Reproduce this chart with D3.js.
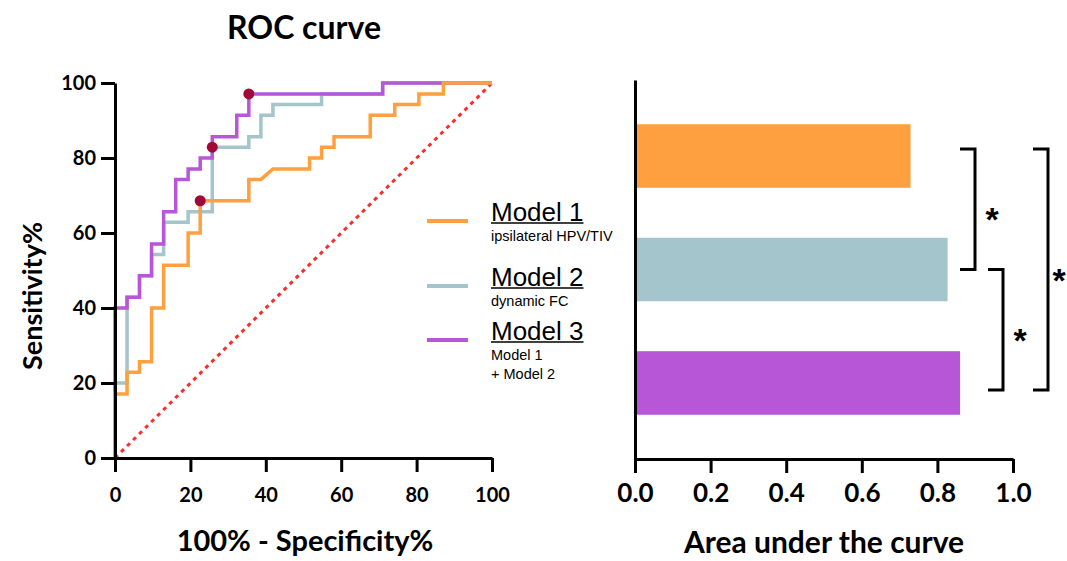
<!DOCTYPE html>
<html>
<head>
<meta charset="utf-8">
<script src="https://cdn.jsdelivr.net/npm/d3@7.9.0/dist/d3.min.js"></script>
<style>
  body { margin: 0; background: #fff; }
  svg { display: block; }
  .bold { font-family: Lato, "Open Sans", sans-serif; font-weight: 700; }
  .legend { font-family: "Liberation Sans", Arial, sans-serif; }
</style>
</head>
<body>
<svg width="1067" height="561"></svg>
<script>
// ROC points, [100% - specificity, sensitivity] in percent
const model1Roc = [[0,0],[0,17.1],[3.2,17.1],[3.2,22.9],[6.5,22.9],[6.5,25.7],[9.7,25.7],[9.7,40],[12.9,40],[12.9,51.4],
  [19.4,51.4],[19.4,60],[22.6,60],[22.6,68.6],[35.5,68.6],[35.5,74.3],[38.7,74.3],[41.9,77.1],[51.6,77.1],[51.6,80],
  [54.8,80],[54.8,82.9],[58.1,82.9],[58.1,85.7],[67.7,85.7],[67.7,91.4],[74.2,91.4],[74.2,94.3],[80.6,94.3],[80.6,97.1],
  [87.1,97.1],[87.1,100],[100,100]];
const model2Roc = [[0,0],[0,20],[3.2,20],[3.2,42.9],[6.5,42.9],[6.5,48.6],[9.7,48.6],[9.7,54.3],[12.9,54.3],[12.9,62.9],
  [19.4,62.9],[19.4,65.7],[25.8,65.7],[25.8,82.9],[35.5,82.9],[35.5,85.7],[38.7,85.7],[38.7,91.4],[41.9,91.4],[41.9,94.3],
  [54.8,94.3],[54.8,97.1],[71.0,97.1],[71.0,100],[100,100]];
const model3Roc = [[0,0],[0,40],[3.2,40],[3.2,42.9],[6.5,42.9],[6.5,48.6],[9.7,48.6],[9.7,57.1],[12.9,57.1],[12.9,65.7],
  [16.1,65.7],[16.1,74.3],[19.4,74.3],[19.4,77.1],[22.6,77.1],[22.6,80],[25.8,80],[25.8,85.7],[32.3,85.7],[32.3,91.4],
  [35.5,91.4],[35.5,97.1],[71.0,97.1],[71.0,100],[100,100]];
// optimal cut-off points
const cutPoints = [[22.6,68.6],[25.8,82.9],[35.5,97.1]];

const models = ['Model 1', 'Model 2', 'Model 3'];
const modelNotes = [['ipsilateral HPV/TIV'], ['dynamic FC'], ['Model 1', '+ Model 2']];
const colors = ['#ffa040', '#a3c5cb', '#b856d8'];
const aucValues = [0.729, 0.827, 0.860];
// significance brackets between bars (index pairs)
const comparisons = [[0, 1], [1, 2], [0, 2]];
const rocTicks = [0, 20, 40, 60, 80, 100];
const aucTicks = [0, 0.2, 0.4, 0.6, 0.8, 1.0];

let svg = d3.select('svg');

function styleAxis(g, size) {
  g.selectAll('path.domain').attr('stroke', '#000').attr('stroke-width', 3);
  g.selectAll('.tick line').attr('stroke', '#000').attr('stroke-width', 3);
  g.selectAll('.tick text').attr('class', 'bold').attr('fill', '#000').attr('font-size', size);
  g.attr('font-family', null);
}

// ---------- ROC curve ----------
let x = d3.scaleLinear().domain([0, 100]).range([115, 492]);
let y = d3.scaleLinear().domain([0, 100]).range([458, 83]);

svg.append('text').attr('class', 'bold')
  .attr('x', 304).attr('y', 39).attr('text-anchor', 'middle')
  .attr('font-size', 32).text('ROC curve');

// chance line
svg.append('line')
  .attr('x1', x(0)).attr('y1', y(0)).attr('x2', x(100)).attr('y2', y(100))
  .attr('stroke', '#ff2a2a').attr('stroke-width', 3).attr('stroke-dasharray', '4 4.5');

let line = d3.line().x(d => x(d[0])).y(d => y(d[1]));
let curveOrder = [1, 2, 0]; // teal below, orange on top
let curves = [model1Roc, model2Roc, model3Roc];
curveOrder.forEach(i => {
  svg.append('path')
    .attr('d', line(curves[i]))
    .attr('fill', 'none')
    .attr('stroke', colors[i])
    .attr('stroke-width', 3.5)
    .attr('stroke-linejoin', 'miter');
});

svg.selectAll('circle.cut')
  .data(cutPoints)
  .join('circle')
  .attr('class', 'cut')
  .attr('cx', d => x(d[0])).attr('cy', d => y(d[1]))
  .attr('r', 5.5).attr('fill', '#a00a3a');

let xAxis = svg.append('g').attr('transform', `translate(0,${y(0)})`)
  .call(d3.axisBottom(x).tickValues(rocTicks).tickSize(14).tickSizeOuter(0).tickPadding(16));
styleAxis(xAxis, 20);
let yAxis = svg.append('g').attr('transform', `translate(${x(0)},0)`)
  .call(d3.axisLeft(y).tickValues(rocTicks).tickSize(14).tickSizeOuter(0).tickPadding(5));
styleAxis(yAxis, 20);

svg.append('text').attr('class', 'bold')
  .attr('x', 305).attr('y', 551).attr('text-anchor', 'middle')
  .attr('font-size', 29).text('100% - Specificity%');
svg.append('text').attr('class', 'bold')
  .attr('transform', 'translate(42,296) rotate(-90)').attr('text-anchor', 'middle')
  .attr('font-size', 27).text('Sensitivity%');

// legend
let legendY = [221, 286, 340];
models.forEach((m, i) => {
  let g = svg.append('g').attr('class', 'legend');
  g.append('line').attr('x1', 427).attr('x2', 468)
    .attr('y1', legendY[i]).attr('y2', legendY[i])
    .attr('stroke', colors[i]).attr('stroke-width', 4);
  let t = g.append('text').attr('x', 491).attr('y', legendY[i])
    .attr('font-size', 26).attr('fill', '#000').text(m);
  let w = t.node().getComputedTextLength();
  g.append('line').attr('x1', 491).attr('x2', 491 + w)
    .attr('y1', legendY[i] + 2).attr('y2', legendY[i] + 2)
    .attr('stroke', '#000').attr('stroke-width', 1.5);
  modelNotes[i].forEach((n, j) => {
    g.append('text').attr('x', 491).attr('y', legendY[i] + 20 + j * 19)
      .attr('font-size', 14.5).attr('fill', '#000').text(n);
  });
});

// ---------- AUC bars ----------
let xb = d3.scaleLinear().domain([0, 1]).range([635, 1013]);
let yb = d3.scaleBand().domain(models).range([80, 459]).paddingInner(0.44).paddingOuter(0.39);

svg.selectAll('rect.bar')
  .data(aucValues)
  .join('rect')
  .attr('class', 'bar')
  .attr('x', xb(0)).attr('y', (d, i) => yb(models[i]))
  .attr('width', d => xb(d) - xb(0)).attr('height', yb.bandwidth())
  .attr('fill', (d, i) => colors[i]);

let xbAxis = svg.append('g').attr('transform', `translate(0,${yb.range()[1]})`)
  .call(d3.axisBottom(xb).tickValues(aucTicks).tickFormat(d3.format('.1f')).tickSize(14).tickSizeOuter(0).tickPadding(11));
styleAxis(xbAxis, 26);
let ybAxis = svg.append('g').attr('transform', `translate(${xb(0)},0)`)
  .call(d3.axisLeft(yb).tickSize(0).tickSizeOuter(0).tickFormat(''));
styleAxis(ybAxis, 0);

svg.append('text').attr('class', 'bold')
  .attr('x', 824).attr('y', 553).attr('text-anchor', 'middle')
  .attr('font-size', 30).text('Area under the curve');

// significance brackets
let bracketX = [975, 1003, 1048];
let starShift = [17, 17, 11];
comparisons.forEach(([a, b], k) => {
  let top = yb(models[a]) + yb.bandwidth() / 2 - (a === 0 ? 7 : 0);
  let bot = yb(models[b]) + yb.bandwidth() / 2 + (b === 2 ? 7 : 0);
  let bx = bracketX[k];
  svg.append('path')
    .attr('d', `M${bx - 15},${top}H${bx}V${bot}H${bx - 15}`)
    .attr('fill', 'none').attr('stroke', '#000').attr('stroke-width', 3);
  svg.append('text').attr('class', 'legend')
    .attr('x', bx + starShift[k]).attr('y', (top + bot) / 2 + 22)
    .attr('text-anchor', 'middle').attr('font-weight', 700)
    .attr('font-size', 34).text('*');
});
</script>
</body>
</html>
